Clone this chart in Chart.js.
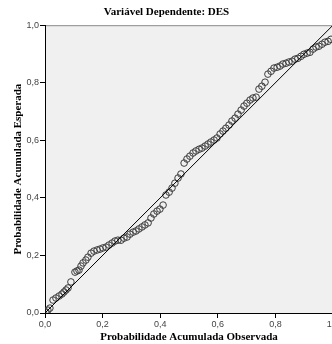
<!DOCTYPE html>
<html lang="pt">

<head>
  <meta charset="UTF-8">
  <title>Gráfico P-P</title>
  <script src="https://cdn.jsdelivr.net/npm/chart.js@4.4.0/dist/chart.umd.min.js"></script>
  <style>
    html, body { margin: 0; padding: 0; background: #fff; overflow: hidden; }
    #wrap { width: 332px; height: 344px; overflow: hidden; }
  </style>
</head>

<body>
  <div id="wrap"><canvas id="pp" width="345" height="344"></canvas></div>

  <script>
    // probabilidade acumulada observada / esperada
    const observada = [
      0.003, 0.010, 0.017, 0.028, 0.038, 0.049, 0.059, 0.066, 0.073, 0.080,
      0.090, 0.104, 0.111, 0.118, 0.125, 0.132, 0.142, 0.149, 0.160, 0.170,
      0.181, 0.191, 0.201, 0.212, 0.222, 0.233, 0.243, 0.253, 0.264, 0.274,
      0.285, 0.295, 0.306, 0.316, 0.326, 0.337, 0.347, 0.358, 0.368, 0.378,
      0.389, 0.399, 0.410, 0.420, 0.431, 0.441, 0.451, 0.462, 0.472, 0.483,
      0.493, 0.503, 0.514, 0.524, 0.535, 0.545, 0.556, 0.566, 0.576, 0.587,
      0.597, 0.608, 0.618, 0.628, 0.639, 0.649, 0.660, 0.670, 0.681, 0.691,
      0.701, 0.712, 0.722, 0.733, 0.743, 0.753, 0.764, 0.774, 0.785, 0.795,
      0.806, 0.816, 0.826, 0.837, 0.847, 0.858, 0.868, 0.878, 0.889, 0.899,
      0.910, 0.920, 0.931, 0.941, 0.951, 0.962, 0.972, 0.983, 0.993
    ];
    const esperada = [
      0.003, 0.010, 0.017, 0.045, 0.052, 0.059, 0.066, 0.073, 0.080, 0.087,
      0.108, 0.142, 0.146, 0.149, 0.163, 0.174, 0.184, 0.194, 0.208, 0.215,
      0.219, 0.222, 0.226, 0.229, 0.236, 0.243, 0.250, 0.253, 0.253, 0.260,
      0.264, 0.274, 0.281, 0.285, 0.292, 0.299, 0.306, 0.313, 0.330, 0.344,
      0.354, 0.361, 0.375, 0.410, 0.420, 0.434, 0.451, 0.469, 0.483, 0.521,
      0.535, 0.545, 0.556, 0.563, 0.569, 0.573, 0.580, 0.587, 0.594, 0.601,
      0.608, 0.622, 0.632, 0.642, 0.653, 0.667, 0.677, 0.691, 0.705, 0.719,
      0.729, 0.740, 0.747, 0.750, 0.778, 0.788, 0.802, 0.830, 0.840, 0.851,
      0.854, 0.858, 0.865, 0.868, 0.872, 0.875, 0.882, 0.885, 0.892, 0.899,
      0.903, 0.906, 0.917, 0.924, 0.927, 0.934, 0.941, 0.944, 0.951
    ];
    const diagonal = [0, 1];
    const ticksEixo = [0, 0.2, 0.4, 0.6, 0.8, 1.0];

    const tituloFont = { family: 'Liberation Serif', size: 11, weight: 'bold' };
    const tickFont = { family: 'Liberation Sans', size: 9 };

    // fundo cinza da área do gráfico + borda superior
    const fundo = {
      id: 'fundo',
      beforeDraw(chart) {
        const { ctx, chartArea: a } = chart;
        ctx.save();
        ctx.fillStyle = '#f0f0f0';
        ctx.fillRect(a.left, a.top, a.right - a.left, a.bottom - a.top);
        ctx.strokeStyle = '#8c8c8c';
        ctx.lineWidth = 1;
        ctx.beginPath();
        ctx.moveTo(a.left, a.top + 0.5);
        ctx.lineTo(a.right, a.top + 0.5);
        ctx.stroke();
        ctx.restore();
      }
    };

    const fmt = v => v.toFixed(1).replace('.', ',');

    const ctx = document.getElementById('pp').getContext('2d');
    const chart = new Chart(ctx, {
      type: 'scatter',
      data: {
        datasets: [{
          label: 'linha',
          type: 'line',
          data: diagonal.map(v => ({ x: v, y: v })),
          borderColor: '#000',
          borderWidth: 1,
          pointRadius: 0,
          fill: false,
          order: 1
        }, {
          label: 'DES',
          data: observada.map((v, i) => ({ x: v, y: esperada[i] })),
          pointStyle: 'circle',
          pointRadius: 3.3,
          borderColor: '#3c3c3c',
          borderWidth: 1,
          backgroundColor: 'rgba(0,0,0,0)',
          order: 2
        }]
      },
      options: {
        responsive: false,
        devicePixelRatio: 1,
        animation: false,
        layout: { padding: { top: 0, right: 12, left: 0, bottom: 0 } },
        plugins: {
          legend: { display: false },
          tooltip: { enabled: false },
          title: {
            display: true,
            text: 'Variável Dependente: DES',
            font: tituloFont,
            color: '#000',
            padding: { top: 6, bottom: 6 }
          }
        },
        scales: {
          x: {
            type: 'linear',
            min: 0, max: 1,
            afterBuildTicks: s => { s.ticks = ticksEixo.map(v => ({ value: v })); },
            afterFit: s => { s.height = 31; },
            ticks: { callback: fmt, font: tickFont, color: '#444', padding: 1, maxRotation: 0 },
            grid: { drawOnChartArea: false, drawTicks: true, tickLength: 5, color: '#000' },
            border: { display: true, color: '#000' },
            title: { display: true, text: 'Probabilidade Acumulada Observada', font: tituloFont, color: '#000', padding: { top: 2, bottom: 0 } }
          },
          y: {
            type: 'linear',
            min: 0, max: 1,
            afterBuildTicks: s => { s.ticks = ticksEixo.map(v => ({ value: v })); },
            afterFit: s => { s.width = 45; },
            ticks: { callback: fmt, font: tickFont, color: '#444', padding: 1 },
            grid: { drawOnChartArea: false, drawTicks: true, tickLength: 5, color: '#000' },
            border: { display: true, color: '#000' },
            title: { display: true, text: 'Probabilidade Acumulada Esperada', font: tituloFont, color: '#000', padding: { top: 12, bottom: 0 } }
          }
        }
      },
      plugins: [fundo]
    });
  </script>
</body>

</html>
